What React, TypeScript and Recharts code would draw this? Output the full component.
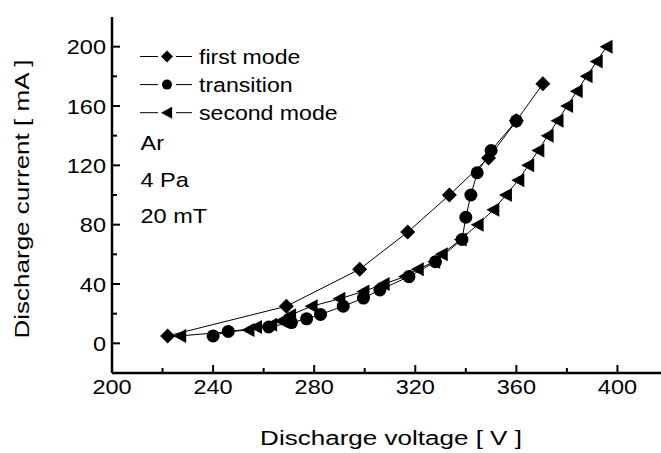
import React from 'react';
import { LineChart, Line, XAxis, YAxis, Legend } from 'recharts';

const FONT = '"Liberation Sans", Arial, Helvetica, sans-serif';
const SX = 1.12;
const TITLE_SX = 1.24;

// ---- data ----
const firstModeVoltage = [222, 269, 298, 317, 333.5, 349, 360, 370.5];
const firstModeCurrent = [5, 25, 50, 75, 100, 125, 150, 175];

const transitionVoltage = [240, 246, 262, 271, 277, 282.5, 291.5, 299.5, 306, 317.5, 328, 338.5, 340, 342, 344.5, 350, 360];
const transitionCurrent = [5, 8, 11, 14, 16.5, 19.5, 25, 30.5, 36, 45, 55, 70, 85, 100, 115, 130, 150];

const secondModeVoltage = [227, 254, 257, 263, 267, 270.5, 279, 290, 299.5, 307.5, 316, 321, 327.5, 330.5, 338, 344.7, 350.9, 355.9, 360.8, 364.7, 368.7, 372.4, 376.3, 380.1, 383.9, 387.8, 391.8, 395.7];
const secondModeCurrent = [5, 9, 11, 12.5, 15, 19, 25, 30, 35, 40, 45, 50, 55, 60, 70, 80, 90, 100, 110, 120, 130, 140, 150, 160, 170, 180, 190, 200];

const xTicks = [200, 220, 240, 260, 280, 300, 320, 340, 360, 380, 400];
const xLabelTicks = [200, 240, 280, 320, 360, 400];
const topTicks = [220, 240, 260, 280, 300, 320, 340, 360, 380, 400];
const yTicks = [0, 20, 40, 60, 80, 100, 120, 140, 160, 180, 200];
const yLabelTicks = [0, 40, 80, 120, 160, 200];
const rightTicks = [0, 40, 80, 120, 160, 200];

const seriesNames = ['first mode', 'transition', 'second mode'];
const annotations = ['Ar', '4 Pa', '20 mT'];

const zip = (v: number[], c: number[]) => v.map((x, k) => ({ v: x, i: c[k] }));
const firstData = zip(firstModeVoltage, firstModeCurrent);
const transData = zip(transitionVoltage, transitionCurrent);
const secondData = zip(secondModeVoltage, secondModeCurrent);

// ---- markers ----
const Diamond = ({ cx, cy, r = 7.5 }: any) => (
  <path d={`M${cx},${cy - r} L${cx + r},${cy} L${cx},${cy + r} L${cx - r},${cy} Z`} fill="#000" />
);
const Dot = ({ cx, cy, r = 6.5 }: any) => <circle cx={cx} cy={cy} r={r} fill="#000" />;
const LeftTri = ({ cx, cy, r = 7 }: any) => (
  <path d={`M${cx - r},${cy} L${cx + r * 0.85},${cy - r} L${cx + r * 0.85},${cy + r} Z`} fill="#000" />
);

const markerFor = (name: string, cx: number, cy: number, small = false) => {
  if (name === 'first mode') return <Diamond cx={cx} cy={cy} r={small ? 6 : 7.5} />;
  if (name === 'transition') return <Dot cx={cx} cy={cy} r={small ? 5 : 6.5} />;
  return <LeftTri cx={cx} cy={cy} r={small ? 6 : 7} />;
};

const dotRenderer = (name: string) => (p: any) => {
  if (p.cx == null || p.cy == null) return <g key={`e${p.index}`} />;
  return <g key={`${name}-${p.index}`}>{markerFor(name, p.cx, p.cy)}</g>;
};

// ---- ticks ----
const textStyle = { fontFamily: FONT, fontSize: 21, fill: '#000' } as any;

const BottomTick = (p: any) => {
  const v = p.payload.value;
  const major = xLabelTicks.includes(v);
  return (
    <g>
      {v !== 200 && <line x1={p.x} x2={p.x} y1={p.y} y2={p.y - (major ? 8 : 5)} stroke="#000" strokeWidth={2} />}
      {major && (
        <text transform={`translate(${p.x},${p.y + 20.5}) scale(${SX},1)`} textAnchor="middle" style={textStyle}>
          {v}
        </text>
      )}
    </g>
  );
};

const TopTick = (p: any) => (
  <line x1={p.x} x2={p.x} y1={p.y} y2={p.y + 6} stroke="#000" strokeWidth={2} />
);

const LeftTick = (p: any) => {
  const v = p.payload.value;
  const major = yLabelTicks.includes(v);
  return (
    <g>
      <line x1={p.x} x2={p.x + (major ? 8 : 5)} y1={p.y} y2={p.y} stroke="#000" strokeWidth={2} />
      {major && (
        <text transform={`translate(${p.x - 6},${p.y + 7.5}) scale(${SX},1)`} textAnchor="end" style={textStyle}>
          {v}
        </text>
      )}
    </g>
  );
};

const RightTick = (p: any) => (
  <line x1={p.x} x2={p.x - 9} y1={p.y} y2={p.y} stroke="#000" strokeWidth={2} />
);

const XTitle = (props: any) => {
  const vb = props.viewBox || {};
  const cx = vb.x + vb.width / 2 + 1;
  return (
    <text transform={`translate(${cx},${vb.y + 72}) scale(${TITLE_SX},1)`} textAnchor="middle" style={textStyle}>
      Discharge voltage [ V ]
    </text>
  );
};

const YTitle = (props: any) => {
  const vb = props.viewBox || {};
  const cy = vb.y + vb.height / 2 + 4;
  return (
    <text transform={`translate(28.5,${cy}) rotate(-90) scale(${TITLE_SX},1)`} textAnchor="middle" style={textStyle}>
      Discharge current [ mA ]
    </text>
  );
};

const renderLegend = (props: any) => {
  const items = [...(props.payload || [])].sort(
    (a: any, b: any) => seriesNames.indexOf(a.value) - seriesNames.indexOf(b.value)
  );
  return (
    <svg width={700} height={260} style={{ position: 'absolute', left: 0, top: 0, overflow: 'visible' }}>
      {items.map((it: any, k: number) => {
        const y = 56.5 + k * 28.1;
        return (
          <g key={it.value}>
            <line x1={140} x2={158} y1={y} y2={y} stroke="#000" strokeWidth={1} />
            <line x1={176} x2={192} y1={y} y2={y} stroke="#000" strokeWidth={1} />
            {markerFor(it.value, 167, y, true)}
            <text transform={`translate(199,${y + 7}) scale(1.1,1)`} style={textStyle}>
              {it.value}
            </text>
          </g>
        );
      })}
      {annotations.map((a, k) => (
        <text key={a} transform={`translate(140.5,${150 + k * 36.5}) scale(${SX},1)`} style={textStyle}>
          {a}
        </text>
      ))}
    </svg>
  );
};

export default function App() {
  return (
    <div style={{ position: 'absolute', left: 0, top: 0, width: 661, height: 453, overflow: 'hidden', background: '#fff' }}>
      <LineChart width={700} height={453} margin={{ top: 17, right: 32, left: 0, bottom: 0 }}>
        <XAxis
          xAxisId="b"
          dataKey="v"
          type="number"
          domain={[200, 420]}
          ticks={xTicks}
          interval={0}
          allowDataOverflow
          height={80}
          tickLine={false}
          tickSize={0}
          tickMargin={0}
          axisLine={{ stroke: '#000', strokeWidth: 2.5 }}
          tick={(p: any) => <BottomTick {...p} />}
          label={{ content: XTitle }}
        />
        <XAxis
          xAxisId="t"
          orientation="top"
          type="number"
          dataKey="v"
          domain={[200, 420]}
          ticks={topTicks}
          interval={0}
          allowDataOverflow
          height={0}
          tickLine={false}
          tickSize={0}
          tickMargin={0}
          axisLine={{ stroke: '#000', strokeWidth: 2.5 }}
          tick={(p: any) => <TopTick {...p} />}
        />
        <YAxis
          yAxisId="l"
          type="number"
          domain={[-20, 220]}
          ticks={yTicks}
          interval={0}
          allowDataOverflow
          width={112}
          tickLine={false}
          tickSize={0}
          tickMargin={0}
          axisLine={{ stroke: '#000', strokeWidth: 2.5 }}
          tick={(p: any) => <LeftTick {...p} />}
          label={{ content: YTitle }}
        />
        <YAxis
          yAxisId="r"
          orientation="right"
          type="number"
          domain={[-20, 220]}
          ticks={rightTicks}
          interval={0}
          allowDataOverflow
          width={0}
          tickLine={false}
          tickSize={0}
          tickMargin={0}
          axisLine={{ stroke: '#000', strokeWidth: 2.5 }}
          tick={(p: any) => <RightTick {...p} />}
        />
        <Legend
          layout="horizontal"
          align="center"
          verticalAlign="middle"
          content={renderLegend}
          wrapperStyle={{ position: 'absolute', left: 0, top: 0, width: 700, height: 260 }}
        />
        <Line
          xAxisId="b"
          yAxisId="l"
          name="first mode"
          data={firstData}
          dataKey="i"
          type="linear"
          stroke="#000"
          strokeWidth={1}
          dot={dotRenderer('first mode')}
          activeDot={false}
          isAnimationActive={false}
        />
        <Line
          xAxisId="b"
          yAxisId="l"
          name="second mode"
          data={secondData}
          dataKey="i"
          type="linear"
          stroke="#000"
          strokeWidth={1}
          dot={dotRenderer('second mode')}
          activeDot={false}
          isAnimationActive={false}
        />
        <Line
          xAxisId="b"
          yAxisId="l"
          name="transition"
          data={transData}
          dataKey="i"
          type="linear"
          stroke="#000"
          strokeWidth={1}
          dot={dotRenderer('transition')}
          activeDot={false}
          isAnimationActive={false}
        />
      </LineChart>
    </div>
  );
}
